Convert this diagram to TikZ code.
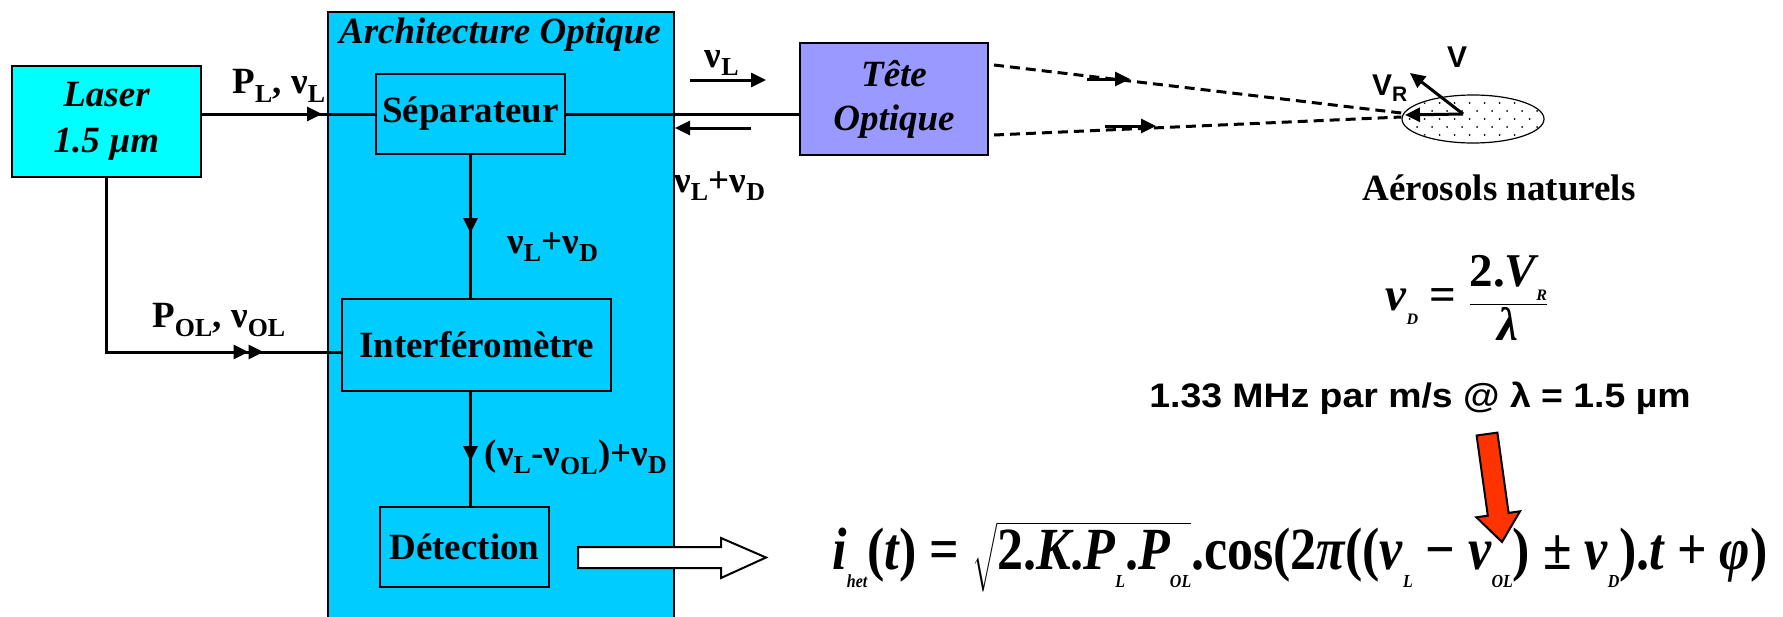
\documentclass[tikz,border=0pt]{standalone}
\usepackage{amsmath}
\usepackage{graphicx}
\usepackage{fontspec}
\setmainfont{Liberation Serif}
\newfontfamily\arialfont{Liberation Sans}
\usetikzlibrary{arrows.meta,decorations.markings,shapes.geometric}

\definecolor{laserc}{HTML}{00FFFF}
\definecolor{archc}{HTML}{00CCFF}
\definecolor{tetec}{HTML}{9999FF}
\definecolor{redc}{HTML}{FF3300}

\newcommand{\lbl}{\fontsize{37}{40}\selectfont\bfseries}
\newcommand{\lblit}{\fontsize{37}{44}\selectfont\bfseries\itshape}
\newcommand{\lblsf}{\arialfont\fontsize{30}{34}\selectfont\bfseries}
\newcommand{\tbi}[1]{{\bfseries\itshape #1}}
\newcommand{\tsub}[1]{\raisebox{-0.3em}{\fontsize{16}{16}\selectfont\bfseries\itshape #1}}

\tikzset{
  blk/.style={draw, line width=2pt, inner sep=0pt, font=\lbl},
  fl/.style={line width=3pt},
  ray/.style={line width=3pt, dash pattern=on 10pt off 6pt},
  arr/.style={-{Triangle[length=15pt,width=14pt]}},
  midtip/.style={postaction={decorate}, decoration={markings,
      mark=at position #1 with {\arrow{Triangle[length=15pt,width=14pt]}}}},
  dbltip/.style={postaction={decorate}, decoration={markings,
      mark=at position 316pt with {\arrow{Triangle[length=15pt,width=14pt]}},
      mark=at position 331pt with {\arrow{Triangle[length=15pt,width=14pt]}}}},
}

\begin{document}
\begin{tikzpicture}[x=1pt,y=-1pt]
\useasboundingbox (0,0) rectangle (1783,616);

% optical architecture frame
\node[draw, line width=2pt, fill=archc, anchor=north west, minimum width=346pt,
  minimum height=640pt, inner sep=0pt] (arch) at (327,11) {};
\node[font=\fontsize{37}{40}\selectfont\bfseries\itshape] (archt) at (500,35) {Architecture Optique};

% blocks
\node[blk, fill=laserc, minimum width=189pt, minimum height=111pt, align=center, font=\fontsize{37}{46}\selectfont\bfseries\itshape] (laser) at (106.5,121.5) {Laser\\1.5 µm};
\node[blk, fill=archc, minimum width=189pt, minimum height=80pt] (sep) at (470.5,114) {Séparateur};
\node[blk, fill=archc, minimum width=269pt, minimum height=92pt] (interf) at (476.5,345) {Interféromètre};
\node[blk, fill=archc, minimum width=169pt, minimum height=80pt] (det) at (464.5,547) {Détection};
\node[blk, fill=tetec, minimum width=188pt, minimum height=112pt, align=center, font=\lblit] (tete) at (894,99) {Tête\\Optique};

% links
\draw[fl, midtip=120pt] (laser.east |- sep.west) -- (sep.west);
\draw[fl] (sep.east) -- (tete.west |- sep.east);
\draw[fl, midtip=78pt] (sep.south) -- (sep.south |- interf.north);
\draw[fl, midtip=69pt] (sep.south |- interf.south) -- (sep.south |- det.north);
\draw[fl, dbltip] (laser.south) |- ([yshift=-7pt]interf.west);

% labels
\node[font=\lbl] (pl) at (279,86) {P\textsubscript{L}, ν\textsubscript{L}};
\node[font=\lbl] (pol) at (219,320) {P\textsubscript{OL}, ν\textsubscript{OL}};
\node[font=\lbl] (nld) at (553,247) {ν\textsubscript{L}+ν\textsubscript{D}};
\node[font=\lbl] (diff) at (576,457) {(ν\textsubscript{L}-ν\textsubscript{OL})+ν\textsubscript{D}};
\node[font=\lbl] (nul) at (722,63) {ν\textsubscript{L}};
\node[font=\lbl] (nuld) at (720,186) {ν\textsubscript{L}+ν\textsubscript{D}};

% go and return
\coordinate (goA) at (690,80);
\coordinate (goB) at (766,80);
\coordinate (backA) at (751,128);
\coordinate (backB) at (675,128);
\draw[fl, arr] (goA) -- (goB);
\draw[fl, arr] (backA) -- (backB);

% aerosol cloud
\node[draw, ellipse, line width=1.2pt, minimum width=142pt, minimum height=48pt, inner sep=0pt] (cloud) at (1473,119) {};
\begin{scope}
  \clip (1473,119) ellipse [x radius=70, y radius=23];
  \foreach \r in {0,...,6}
    \foreach \c in {0,...,10}
      \fill ({1402+15*\c+7.5*mod(\r,2)},{95+8*\r}) circle (1pt);
\end{scope}
\node[font=\lbl] (aero) at (1499,188) {Aérosols naturels};

\draw[ray] ([xshift=5pt]tete.north east |- 0,65) -- ([yshift=6pt]cloud.west);
\draw[ray] ([xshift=5pt]tete.north east |- 0,135) -- ([yshift=2pt]cloud.west);
\coordinate (upA) at (1087,79);
\coordinate (upB) at (1130,79);
\coordinate (loA) at (1105,126);
\coordinate (loB) at (1156,126);
\draw[fl, arr] (upA) -- (upB);
\draw[fl, arr] (loA) -- (loB);

% speed
\coordinate (vo) at (1463,114);
\coordinate (vend) at (1410,73);
\coordinate (vrend) at (1405,115);
\draw[fl, arr] (vo) -- (vend);
\draw[fl, arr] (vo) -- (vrend);
\node[font=\lblsf] (v) at (1457,57) {V};
\node[font=\lblsf] (vr) at (1390,88) {V\textsubscript{R}};

% formulas
\node[font=\fontsize{47}{50}\selectfont\bfseries] (doppler) at (1467,298)
  {\tbi{ν}\tsub{D} = $\dfrac{\hbox{2.\tbi{V}\tsub{R}}}{\hbox{\tbi{λ}}}$};
\node[font=\arialfont\fontsize{34}{38}\selectfont\bfseries] (mhz) at (1420,398) {\scalebox{1.1}[1]{1.33 MHz par m/s @ λ = 1.5 µm}};
\node[font=\fontsize{52}{56}\selectfont\bfseries] (ihet) at (1300,557)
  {\scalebox{1}[1.15]{\tbi{i}\tsub{het}(\tbi{t}) = $\sqrt{\hbox{2.\tbi{K}.\tbi{P}\tsub{L}.\tbi{P}\tsub{OL}}}$.cos(2\tbi{π}((\tbi{ν}\tsub{L} − \tbi{ν}\tsub{OL}) ± \tbi{ν}\tsub{D}).\tbi{t} + \tbi{φ})}};

% output arrow
\draw[line width=2pt, fill=white] (578,547) -- (721,547) -- (721,538) -- (766,557.5)
  -- (721,578) -- (721,568) -- (578,568) -- cycle;

% red arrow
\draw[line width=2pt, fill=redc] (1476.6,435.5) -- (1497.4,432.6) -- (1508.6,512.9)
  -- (1520,511.3) -- (1502,542) -- (1476.4,517.3) -- (1487.8,515.7) -- cycle;
\end{tikzpicture}
\end{document}
